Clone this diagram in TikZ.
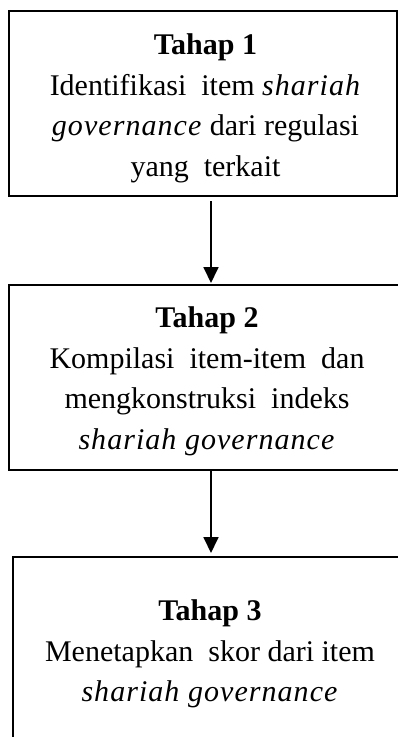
\documentclass[tikz,border=0pt]{standalone}
\usepackage{fontspec}
\setmainfont{Liberation Serif}[ItalicFeatures={LetterSpace=3.5}]
\usetikzlibrary{arrows.meta}
\begin{document}
\begin{tikzpicture}[x=1pt,y=1pt,
  boxline/.style={draw=black,line width=2pt,inner sep=0pt,outer sep=0pt},
  steptext/.style={align=center,font=\fontsize{30}{40.5}\selectfont,inner sep=0pt,anchor=north},
  arr/.style={line width=1.8pt,-{Triangle[length=16pt,width=15pt]}}]
\useasboundingbox (0,0) rectangle (398,-737);
\clip (0,0) rectangle (398,-737);
% boxes
\node[boxline,minimum width=388pt,minimum height=185pt,anchor=north west] (box1) at (8.5,-11) {};
\node[boxline,minimum width=400pt,minimum height=185pt,anchor=north west] (box2) at (8.5,-285) {};
\node[boxline,minimum width=400pt,minimum height=260pt,anchor=north west] (box3) at (12.5,-557) {};
% texts
\node[steptext] (t1) at (205.5,-33.5) {\textbf{Tahap 1}\\Identifikasi\ \ item \textit{shariah}\\\textit{governance} dari regulasi\\yang\ \ terkait};
\node[steptext] (t2) at (207,-306.5) {\textbf{Tahap 2}\\Kompilasi\ \ item-item\ \ dan\\mengkonstruksi\ \ indeks\\\textit{shariah governance}};
\node[steptext] (t3) at (210,-599.5) {\textbf{Tahap 3}\\Menetapkan\ \ skor dari item\\\textit{shariah governance}};
% arrows
\coordinate (ax) at (211,0);
\draw[arr,shorten <=5pt,shorten >=2pt] (box1.south -| ax) -- (box2.north -| ax);
\draw[arr,shorten >=4pt] (box2.south -| ax) -- (box3.north -| ax);
\end{tikzpicture}
\end{document}
